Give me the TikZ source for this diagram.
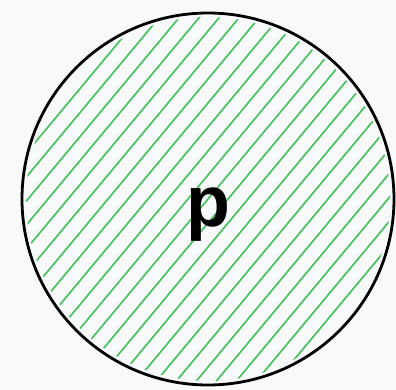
\documentclass[tikz,border=0pt]{standalone}
\usepackage{fontspec}
\setmainfont{Liberation Sans}
\usetikzlibrary{calc}
\definecolor{hatchgreen}{HTML}{40C057}
\definecolor{paper}{HTML}{F8F9FB}
\tikzset{
  hatchline/.style={hatchgreen, line width=1.6bp},
  ball/.style={circle, draw, line width=2.8bp, minimum size=372bp, inner sep=0pt,
    font=\bfseries\fontsize{72}{72}\selectfont,
    path picture={
      \clip (path picture bounding box.center) circle (182bp);
      \foreach \i in {-24,...,24}
        \draw[hatchline] ($(path picture bounding box.center)+(\i*20bp-180bp,-216bp)$) -- ++(360bp,432bp);
    }},
}
\begin{document}
\begin{tikzpicture}[x=1bp,y=1bp]
\fill[paper] (0,0) rectangle (396,390);
\node[ball] (p) at (208,191) {\raisebox{-27bp}[0pt][0pt]{p}};
\end{tikzpicture}
\end{document}
